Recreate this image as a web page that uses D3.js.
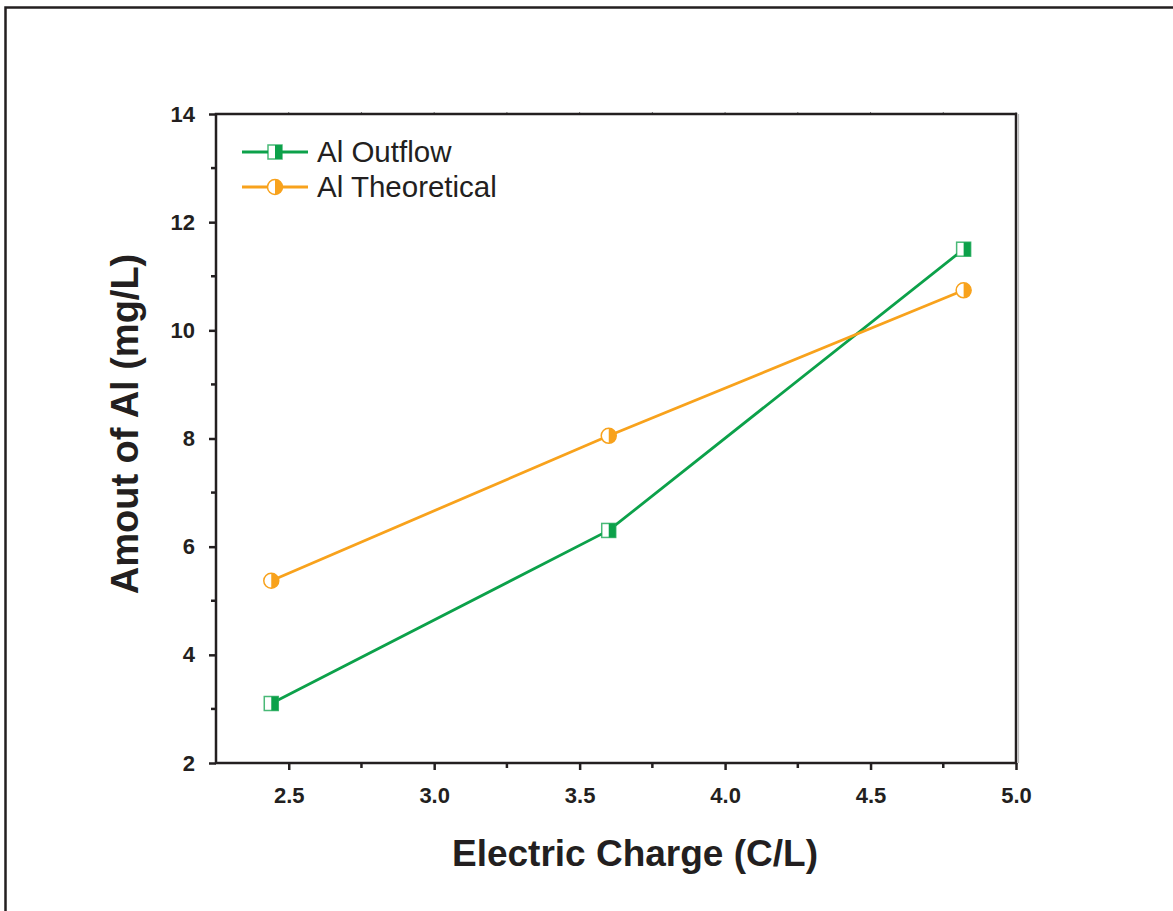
<!DOCTYPE html>
<html><head><meta charset="utf-8">
<script src="https://cdn.jsdelivr.net/npm/d3@7/dist/d3.min.js"></script>
<style>body{margin:0;background:#fff}svg{display:block}text{font-family:"Liberation Sans",Arial,sans-serif;fill:#231f20}</style>
</head><body>
<script>
const charge = [2.44, 3.6, 4.82];
const alOutflow = [3.1, 6.3, 11.5];
const alTheoretical = [5.37, 8.05, 10.74];
const xTicks = [2.5, 3.0, 3.5, 4.0, 4.5, 5.0];
const yTicks = [2, 4, 6, 8, 10, 12, 14];
const seriesNames = ["Al Outflow", "Al Theoretical"];
const seriesColors = ["#0ca14a", "#f8a21c"];

const W = 1173, H = 911;
const svg = d3.select("body").append("svg").attr("width", W).attr("height", H);
const L = 216, R = 1016, T = 114, B = 763;
const x = d3.scaleLinear().domain([2.25, 5.0]).range([L, R]);
const y = d3.scaleLinear().domain([2, 14]).range([B, T]);
const ink = "#231f20";

// outer border
svg.append("path").attr("d", `M5.5,${H} V7.5 H${W}`).attr("fill","none").attr("stroke",ink).attr("stroke-width",2.5);

const xMinor = d3.range(2.75, 5.0, 0.5);
const yMinor = d3.range(3, 14, 2);

const xAx = svg.append("g").attr("transform",`translate(0,${B})`)
  .call(d3.axisBottom(x).tickValues(xTicks).tickFormat(d3.format(".1f")).tickSize(7).tickPadding(17));
const yAx = svg.append("g").attr("transform",`translate(${L},0)`)
  .call(d3.axisLeft(y).tickValues(yTicks).tickFormat(d3.format("d")).tickSize(7).tickPadding(14));
[xAx, yAx].forEach(g=>{
  g.attr("font-size",null).attr("font-family",null);
  g.select(".domain").remove();
  g.selectAll(".tick line").attr("stroke",ink).attr("stroke-width",2.5);
  g.selectAll(".tick text").attr("fill",ink)
   .style("font-size","22px").style("font-weight","bold")
   .style("font-family","'Liberation Sans',Arial,sans-serif");
});
svg.append("g").selectAll("line").data(xMinor).join("line")
  .attr("x1",d=>x(d)).attr("x2",d=>x(d)).attr("y1",B).attr("y2",B+5).attr("stroke",ink).attr("stroke-width",2.5);
svg.append("g").selectAll("line").data(yMinor).join("line")
  .attr("y1",d=>y(d)).attr("y2",d=>y(d)).attr("x1",L).attr("x2",L-5).attr("stroke",ink).attr("stroke-width",2.5);
svg.append("g").selectAll("line").data(xTicks.concat(xMinor)).join("line")
  .attr("x1",d=>x(d)).attr("x2",d=>x(d)).attr("y1",T).attr("y2",T-2).attr("stroke","#777").attr("stroke-width",1);

// frame
svg.append("rect").attr("x",L).attr("y",T).attr("width",R-L).attr("height",B-T)
  .attr("fill","none").attr("stroke",ink).attr("stroke-width",2.5);
svg.append("line").attr("x1",R+2.5).attr("x2",R+2.5).attr("y1",T).attr("y2",B).attr("stroke","#bbb").attr("stroke-width",1.2);

// axis titles
svg.append("text").attr("x",635).attr("y",866).attr("text-anchor","middle")
  .style("font-size","37px").style("font-weight","bold").text("Electric Charge (C/L)");
svg.append("text").attr("transform",`translate(138,424) rotate(-90)`).attr("text-anchor","middle")
  .style("font-size","38px").style("font-weight","bold").text("Amout of Al (mg/L)");

const line = d3.line().x(d=>x(d[0])).y(d=>y(d[1]));
const series = [alOutflow, alTheoretical];

function squareMarker(g, cx, cy, col){
  const s = 14;
  g.append("rect").attr("x",cx-s/2).attr("y",cy-s/2).attr("width",s).attr("height",s)
    .attr("fill","#fff").attr("stroke",col).attr("stroke-width",1.5).attr("stroke-opacity",0.75);
  g.append("rect").attr("x",cx).attr("y",cy-s/2).attr("width",s/2).attr("height",s).attr("fill",col);
}
function circleMarker(g, cx, cy, col){
  const r = 7.5;
  g.append("circle").attr("cx",cx).attr("cy",cy).attr("r",r).attr("fill","#fff").attr("stroke",col).attr("stroke-width",1.5);
  g.append("path").attr("d",`M${cx},${cy-r} A${r},${r} 0 0,1 ${cx},${cy+r} Z`).attr("fill",col);
}
const markers = [squareMarker, circleMarker];

series.forEach((vals,i)=>{
  const pts = charge.map((c,j)=>[c, vals[j]]);
  svg.append("path").attr("d",line(pts)).attr("fill","none").attr("stroke",seriesColors[i]).attr("stroke-width",2.8);
  const g = svg.append("g");
  pts.forEach(p=>markers[i](g, x(p[0]), y(p[1]), seriesColors[i]));
});

// legend
seriesNames.forEach((n,i)=>{
  const ly = 152 + i*35;
  svg.append("line").attr("x1",242).attr("x2",308).attr("y1",ly).attr("y2",ly).attr("stroke",seriesColors[i]).attr("stroke-width",2.8);
  markers[i](svg.append("g"), 275, ly, seriesColors[i]);
  svg.append("text").attr("x",317).attr("y",ly+10).style("font-size","29.5px").text(n);
});
</script>
</body></html>
